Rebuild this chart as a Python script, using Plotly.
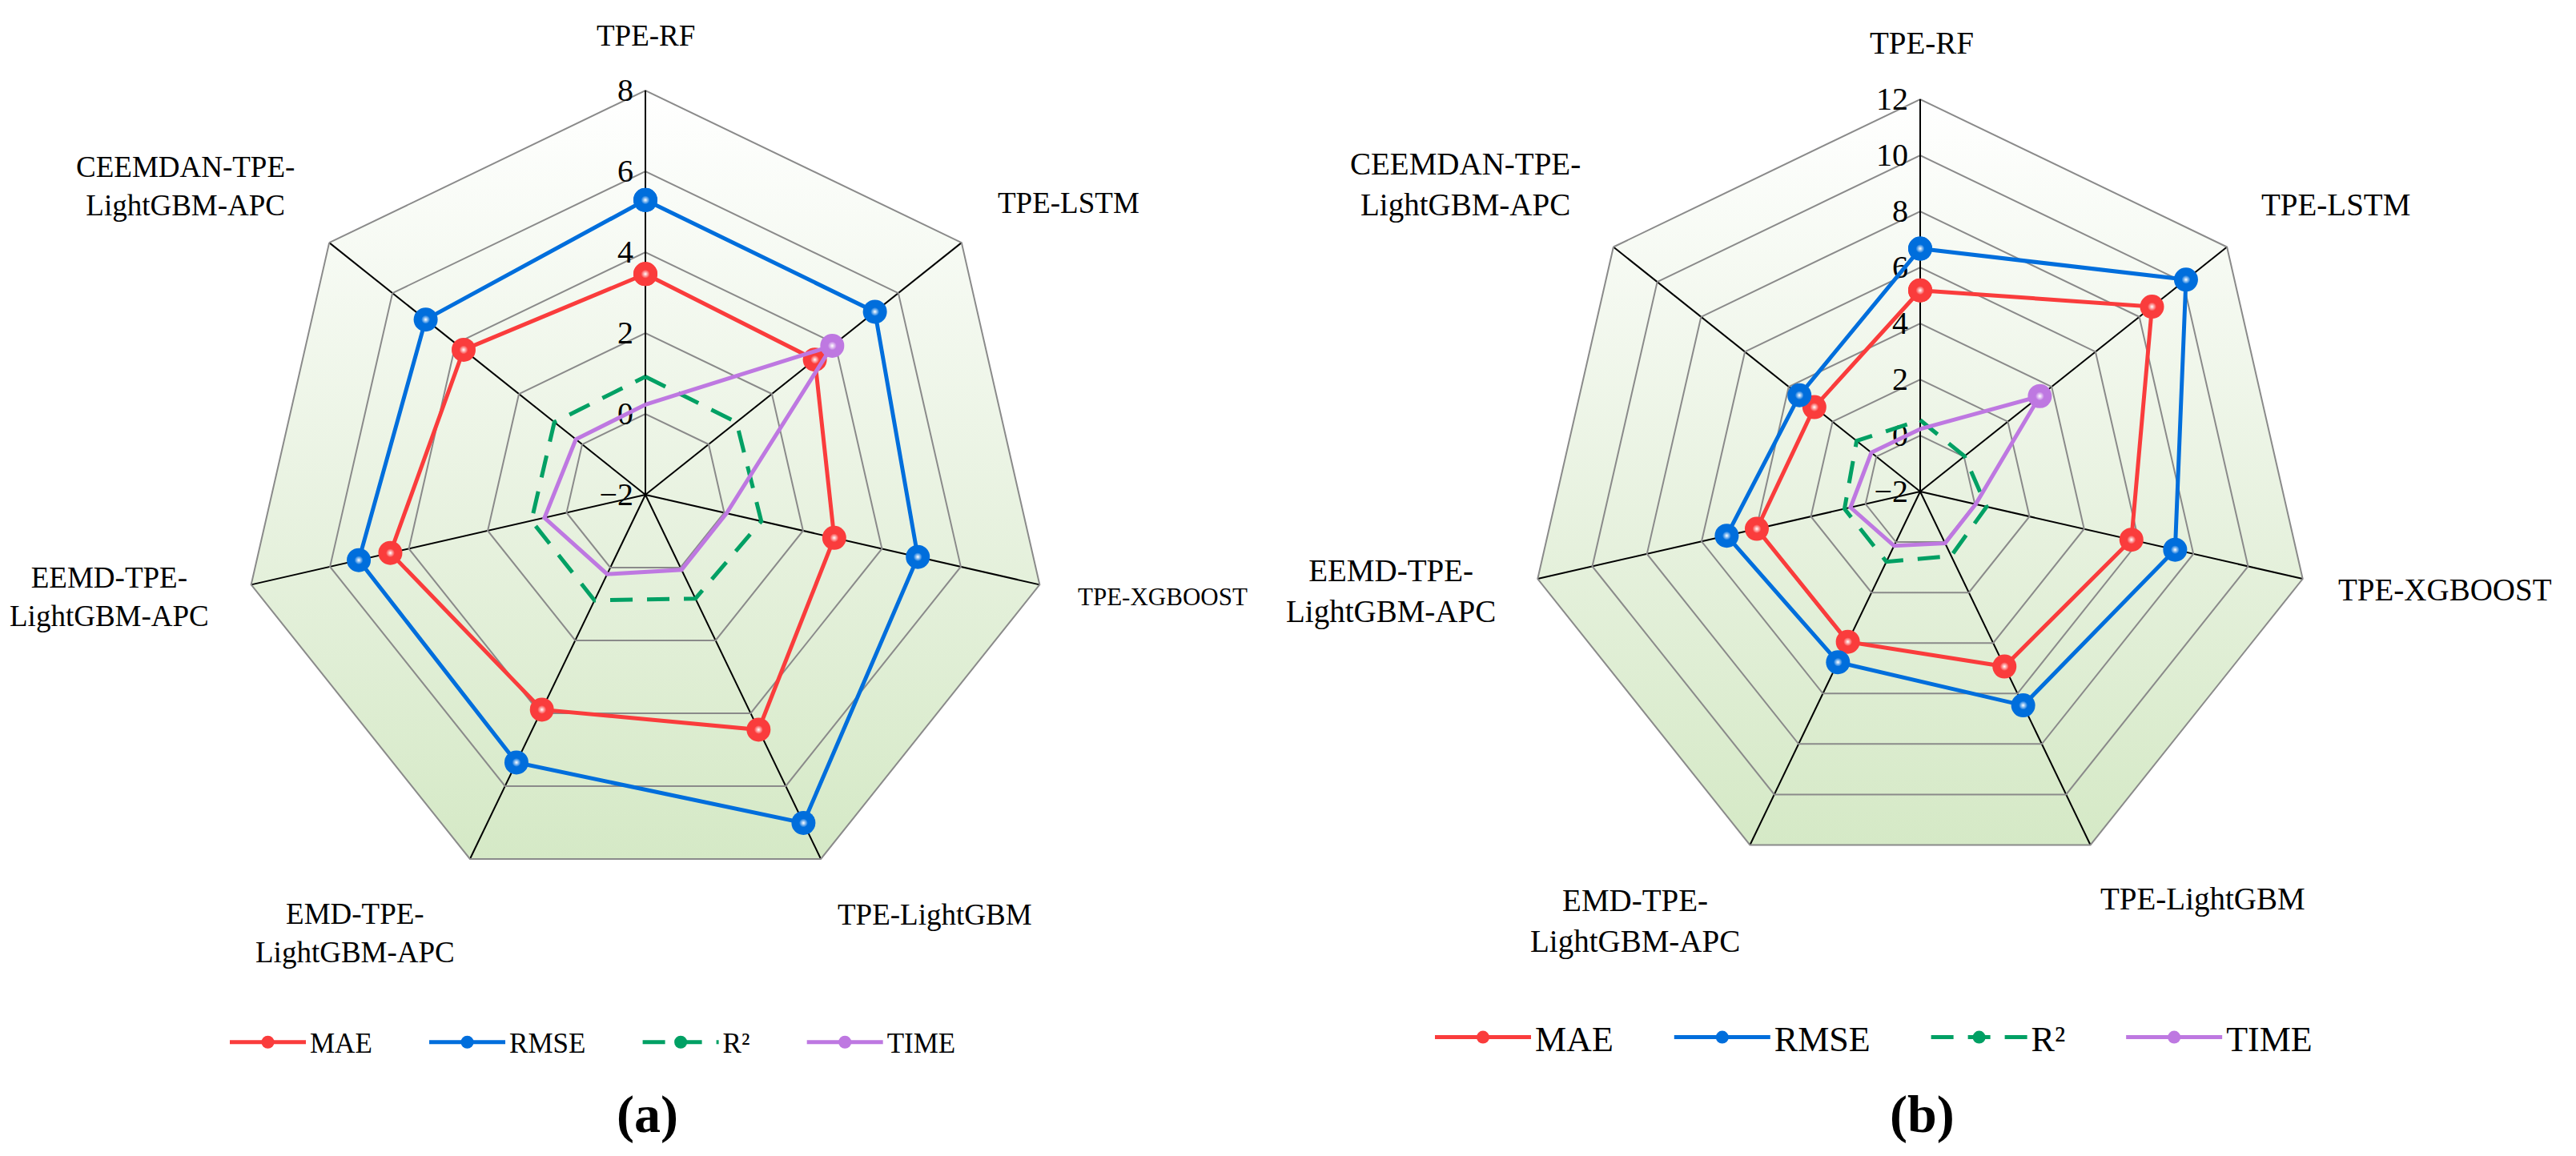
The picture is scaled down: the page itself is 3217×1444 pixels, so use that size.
import math
import plotly.graph_objects as go

# ---------------- data ----------------
categories = ["TPE-RF", "TPE-LSTM", "TPE-XGBOOST", "TPE-LightGBM",
              "EMD-TPE-LightGBM-APC", "EEMD-TPE-LightGBM-APC", "CEEMDAN-TPE-LightGBM-APC"]
category_labels = ["TPE-RF", "TPE-LSTM", "TPE-XGBOOST", "TPE-LightGBM",
                   "EMD-TPE-<br>LightGBM-APC", "EEMD-TPE-<br>LightGBM-APC", "CEEMDAN-TPE-<br>LightGBM-APC"]
metric_names = ["MAE", "RMSE", "R²", "TIME"]

# panel (a)
a_mae = [3.46, 3.36, 2.79, 4.45, 3.90, 4.47, 3.75]
a_rmse = [5.29, 5.26, 4.91, 7.01, 5.35, 5.27, 4.95]
a_r2 = [0.92, 0.88, 0.94, 0.85, 0.90, 0.89, 0.88]
a_time = [0.23, 3.91, 0.06, 0.06, 0.18, 0.56, 0.20]
a_range = [-2, 8]

# panel (b)
b_mae = [5.18, 8.58, 5.73, 4.93, 3.95, 3.98, 2.83]
b_rmse = [6.67, 10.13, 7.33, 6.47, 4.76, 5.08, 3.51]
b_r2 = [0.55, 0.02, 0.43, 0.55, 0.78, 0.77, 0.90]
b_time = [0.23, 3.46, 0.03, 0.05, 0.15, 0.55, 0.23]
b_range = [-2, 12]

colors = ["#FA3C3C", "#006EDC", "#00A064", "#BE78E1"]
dashes = ["solid", "solid", "28px,18px", "solid"]

W, H = 3217, 1444
FONT = "Liberation Serif"
NBSP = "\u00a0"


def px_dom(cx, cy, r):
    return dict(x=[(cx - r) / W, (cx + r) / W],
                y=[(H - cy - r) / H, (H - cy + r) / H])


dom_a = px_dom(806, 618, 505)
dom_b = px_dom(2398, 614, 490)

fig = go.Figure()

# ---- gradient background (heptagon inscribed in the polar circle) ----
n = len(categories)
hx = [math.cos(math.radians(90 - i * 360 / n)) for i in range(n + 1)]
hy = [math.sin(math.radians(90 - i * 360 / n)) for i in range(n + 1)]
for xa, ya in [("x", "y"), ("x2", "y2")]:
    fig.add_trace(go.Scatter(
        x=hx, y=hy, xaxis=xa, yaxis=ya, mode="lines", fill="toself",
        line=dict(width=0, color="rgba(0,0,0,0)"),
        fillgradient=dict(type="vertical",
                          colorscale=[[0, "#d5e9c6"], [0.45, "#e8f2e0"], [1, "#ffffff"]]),
        showlegend=False, hoverinfo="skip"))


def add_panel(series, subplot, legend, pad):
    for name, vals, col, dsh in zip(metric_names, series, colors, dashes):
        fig.add_trace(go.Scatterpolar(
            r=vals + [vals[0]], theta=categories + [categories[0]],
            mode="lines+markers", name=name + NBSP * pad, subplot=subplot, legend=legend,
            line=dict(color=col, width=5, dash=dsh),
            marker=dict(size=30, color=col, line=dict(width=0)),
        ))
        fig.add_trace(go.Scatterpolar(
            r=vals, theta=categories, mode="markers", subplot=subplot,
            marker=dict(size=11, color=col, gradient=dict(type="radial", color="#ffffff"),
                        line=dict(width=0)),
            showlegend=False, hoverinfo="skip"))


add_panel([a_mae, a_rmse, a_r2, a_time], "polar", "legend", 7)
add_panel([b_mae, b_rmse, b_r2, b_time], "polar2", "legend2", 6)


def polar_cfg(dom, rng):
    return dict(
        domain=dom,
        bgcolor="rgba(0,0,0,0)",
        gridshape="linear",
        radialaxis=dict(range=rng, dtick=2, tick0=0, angle=90, tickangle=90,
                        side="counterclockwise", showline=True, linecolor="black",
                        linewidth=2, gridcolor="#8a8a8a", gridwidth=2, ticks="",
                        layer="below traces",
                        tickfont=dict(family=FONT, size=40, color="black")),
        angularaxis=dict(direction="clockwise", rotation=90, showticklabels=False,
                         gridcolor="black", gridwidth=2, showline=True,
                         linecolor="#8a8a8a", linewidth=2, ticks="",
                         layer="below traces"),
    )


annotations = []


def lab(text, x, y, xanchor="center", size=37):
    annotations.append(dict(text=text, x=x / W, y=1 - y / H, xref="paper", yref="paper",
                            xanchor=xanchor, yanchor="middle", showarrow=False, align="center",
                            font=dict(family=FONT, size=size, color="black")))


# panel (a) category labels
lab(category_labels[0], 806, 44)
lab(category_labels[1], 1244, 253, "left")
lab(category_labels[2], 1344, 745, "left", size=31)
lab(category_labels[3], 1167, 1142)
lab(category_labels[4], 443, 1165)
lab(category_labels[5], 263, 746, "right")
lab(category_labels[6], 370, 232, "right")
# panel (b) category labels
lab(category_labels[0], 2400, 53, size=39)
lab(category_labels[1], 2822, 256, "left", size=39)
lab(category_labels[2], 2918, 736, "left", size=39)
lab(category_labels[3], 2751, 1123, size=39)
lab(category_labels[4], 2042, 1150, size=39)
lab(category_labels[5], 1870, 738, "right", size=39)
lab(category_labels[6], 1976, 231, "right", size=39)
# captions
lab("<b>(a)</b>", 809, 1392, size=66)
lab("<b>(b)</b>", 2400, 1392, size=66)

fig.update_layout(
    width=W, height=H, autosize=False,
    margin=dict(l=0, r=0, t=0, b=0),
    paper_bgcolor="white", plot_bgcolor="rgba(0,0,0,0)",
    polar=polar_cfg(dom_a, a_range),
    polar2=polar_cfg(dom_b, b_range),
    xaxis=dict(domain=dom_a["x"], range=[-1, 1], visible=False, fixedrange=True),
    yaxis=dict(domain=dom_a["y"], range=[-1, 1], visible=False, fixedrange=True),
    xaxis2=dict(domain=dom_b["x"], range=[-1, 1], visible=False, fixedrange=True, anchor="y2"),
    yaxis2=dict(domain=dom_b["y"], range=[-1, 1], visible=False, fixedrange=True, anchor="x2"),
    legend=dict(orientation="h", x=282 / W, xanchor="left", y=1 - 1302 / H, yanchor="middle",
                font=dict(family=FONT, size=35, color="black"), bgcolor="rgba(0,0,0,0)",
                itemwidth=95),
    legend2=dict(orientation="h", x=1787 / W, xanchor="left", y=1 - 1296 / H, yanchor="middle",
                 font=dict(family=FONT, size=44, color="black"), bgcolor="rgba(0,0,0,0)",
                 itemwidth=120),
    annotations=annotations,
    showlegend=True,
)

fig.write_html("out.html", config={"displayModeBar": False},
               post_script="document.body.style.margin='0';")
